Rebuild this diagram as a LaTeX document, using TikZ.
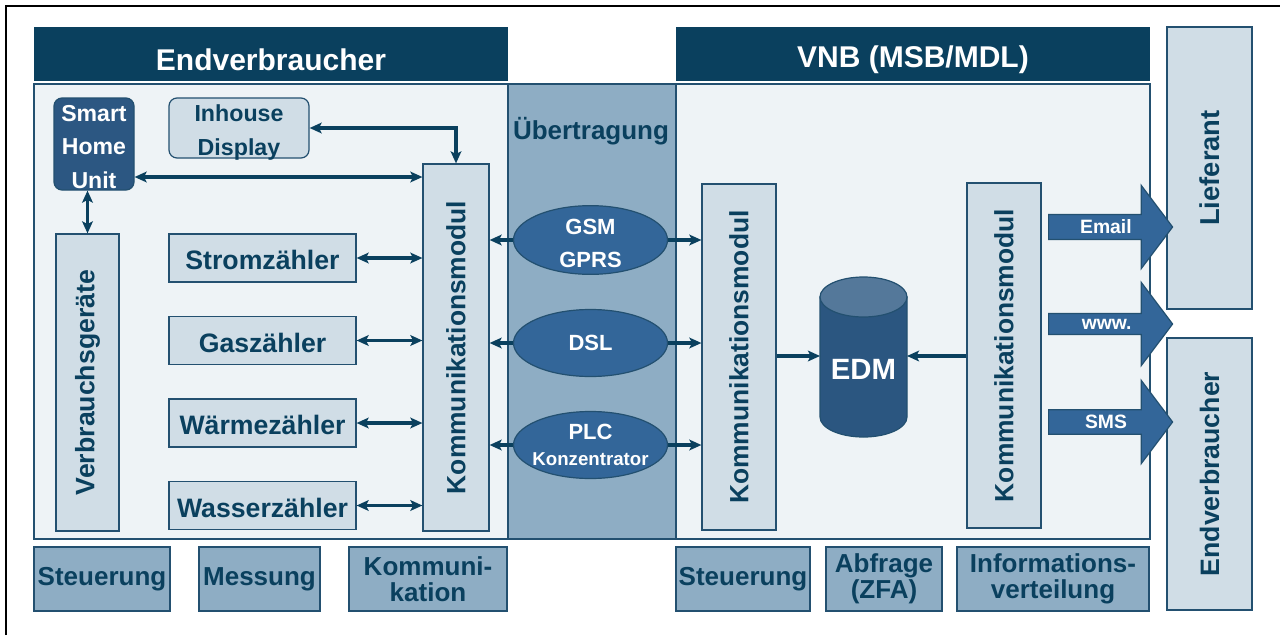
\documentclass[tikz,border=0pt]{standalone}
\usepackage{fontspec}
\setmainfont{Liberation Sans}
\usepackage{graphicx}
\usetikzlibrary{shapes.geometric,shapes.arrows,arrows.meta}
\definecolor{dunkel}{RGB}{10,64,94}
\definecolor{flaeche}{RGB}{238,243,246}
\definecolor{kastenfarbe}{RGB}{208,221,230}
\definecolor{mittel}{RGB}{142,173,196}
\definecolor{ovalfarbe}{RGB}{51,102,153}
\definecolor{shufarbe}{RGB}{44,87,130}
\definecolor{zylinder}{RGB}{43,86,128}
\definecolor{deckel}{RGB}{84,120,154}
\definecolor{rand}{RGB}{35,80,112}
\newdimen\pxu \pxu=0.75pt
\newcommand\schrift[2]{\bfseries\fontsize{#1}{#2}\selectfont}
\newcommand\tief[2]{\raisebox{-#1\pxu}[\height][\depth]{#2}}

\begin{document}
\begin{tikzpicture}[x=0.75pt,y=-0.75pt,
  kopf/.style={fill=dunkel,text=white,font=\schrift{22.5}{26},inner sep=0pt},
  feld/.style={fill=flaeche,draw=rand,line width=0.9pt,inner sep=0pt},
  kasten/.style={fill=kastenfarbe,draw=rand,line width=0.9pt,text=dunkel,align=center,inner sep=0pt},
  gruppe/.style={fill=mittel,draw=rand,line width=0.9pt,text=dunkel,align=center,inner sep=0pt,minimum height=64\pxu,font=\schrift{19.5}{19.5}},
  oval/.style={ellipse,fill=ovalfarbe,draw=rand,line width=0.9pt,text=white,align=center,inner sep=0pt,minimum width=154\pxu,minimum height=67\pxu,font=\schrift{16.5}{24.75}},
  gpfeil/.style={single arrow,fill=ovalfarbe,draw=rand,line width=0.9pt,text=white,inner sep=1pt,minimum width=83\pxu,minimum height=124\pxu,single arrow head extend=21\pxu,single arrow tip angle=106,anchor=tail,font=\schrift{14.5}{17}},
  pfeil/.style={draw=dunkel,line width=2.4pt,-{Stealth[length=9pt,width=8pt,inset=2pt]}},
  dpfeil/.style={pfeil,{Stealth[length=9pt,width=8pt,inset=2pt]}-{Stealth[length=9pt,width=8pt,inset=2pt]}}]
\useasboundingbox (0,0) rectangle (1280,635);
\draw[line width=1.5pt] (6,635) -- (6,6) -- (1280,6);

\node[kopf,minimum width=474\pxu,minimum height=54\pxu] (kopfL) at (271,54) {\tief{6}{Endverbraucher}};
\node[kopf,minimum width=474\pxu,minimum height=54\pxu] (kopfR) at (913,54) {\tief{6}{VNB (MSB/MDL)}};
\node[feld,minimum width=474\pxu,minimum height=455\pxu] (feldL) at (271,311.5) {};
\node[feld,minimum width=474\pxu,minimum height=455\pxu] (feldR) at (913,311.5) {};
\node[feld,fill=mittel,minimum width=168\pxu,minimum height=455\pxu] (uebt) at (592,311.5) {};
\node[text=dunkel,font=\schrift{19.5}{24}] (uebttext) at (591,131) {Übertragung};

\node[kasten,fill=shufarbe,text=white,rounded corners=6pt,minimum width=80\pxu,minimum height=92\pxu,font=\schrift{17.3}{25}] (shu) at (94,144) {\tief{3}{\parbox{58pt}{\centering Smart\\Home\\Unit}}};
\node[kasten,rounded corners=6pt,minimum width=140\pxu,minimum height=60\pxu,font=\schrift{17.4}{25.5}] (ihd) at (239,128) {\tief{5}{\parbox{100pt}{\centering Inhouse\\Display}}};
\node[kasten,minimum width=63\pxu,minimum height=297\pxu,font=\schrift{20}{24}] (vg) at (87.5,382.5) {\rotatebox{90}{Verbrauchsgeräte}};
\node[kasten,minimum width=187\pxu,minimum height=48\pxu,font=\schrift{20}{24}] (strom) at (262.5,258) {\tief{2}{Stromzähler}};
\node[kasten,minimum width=187\pxu,minimum height=48\pxu,font=\schrift{20}{24}] (gas) at (262.5,340.5) {\tief{2}{Gaszähler}};
\node[kasten,minimum width=187\pxu,minimum height=48\pxu,font=\schrift{20}{24}] (waerme) at (262.5,423) {\tief{2}{Wärmezähler}};
\node[kasten,minimum width=187\pxu,minimum height=48\pxu,font=\schrift{20}{24}] (wasser) at (262.5,505.5) {\tief{2}{Wasserzähler}};
\node[kasten,minimum width=66\pxu,minimum height=367\pxu,font=\schrift{19.8}{22}] (km1) at (456,347.5) {\rotatebox{90}{Kommunikationsmodul}};

\node[oval] (gsm) at (590.5,240) {\tief{3}{\parbox{48pt}{\centering GSM\\GPRS}}};
\node[oval] (dsl) at (590.5,343) {DSL};
\node[oval,inner sep=-3pt,font=\schrift{16.5}{20}] (plc) at (590.5,445) {PLC\\\fontsize{14}{20}\selectfont Konzentrator};

\node[kasten,minimum width=74\pxu,minimum height=346\pxu,font=\schrift{19.8}{22}] (km2) at (739,357) {\rotatebox{90}{Kommunikationsmodul}};
\node[kasten,minimum width=74\pxu,minimum height=345\pxu,font=\schrift{19.8}{22}] (km3) at (1004,355.5) {\rotatebox{90}{Kommunikationsmodul}};
\filldraw[fill=zylinder,draw=rand,line width=0.9pt] (820,297) -- (820,417) arc[start angle=180,end angle=0,x radius=43.5,y radius=20] -- (907,297) -- cycle;
\filldraw[fill=deckel,draw=rand,line width=0.9pt] (863.5,297) ellipse[x radius=43.5,y radius=20];
\node[text=white,font=\schrift{22}{26}] (edm) at (863.5,369) {EDM};
\coordinate (edmL) at (820,356);
\coordinate (edmR) at (907,356);

\node[kasten,minimum width=85\pxu,minimum height=282\pxu,font=\schrift{20.5}{24}] (lief) at (1209.5,168) {\rotatebox{90}{Lieferant}};
\node[kasten,minimum width=85\pxu,minimum height=272\pxu,font=\schrift{20}{24}] (endv) at (1209.5,474) {\rotatebox{90}{Endverbraucher}};
\node[gpfeil] (email) at (1048,227) {Email};
\node[gpfeil] (www) at (1048,324) {www.};
\node[gpfeil] (sms) at (1048,422) {SMS};

\node[gruppe,minimum width=136\pxu] (steuL) at (102,579) {Steuerung};
\node[gruppe,minimum width=121\pxu] (mess) at (259.5,579) {Messung};
\node[gruppe,minimum width=158\pxu] (komm) at (428,579) {Kommuni-\\kation};
\node[gruppe,minimum width=134\pxu] (steuR) at (743,579) {Steuerung};
\node[gruppe,minimum width=116\pxu] (abfr) at (884,579) {Abfrage\\(ZFA)};
\node[gruppe,minimum width=192\pxu] (info) at (1053,579) {Informations-\\verteilung};

\draw[dpfeil] (shu.east |- 0,177) -- (km1.west |- 0,177);
\draw[dpfeil] (ihd.east) -| (km1.north);
\draw[dpfeil] (vg.north) -- (vg.north |- shu.south);
\draw[dpfeil] (strom) -- (strom -| km1.west);
\draw[dpfeil] (gas) -- (gas -| km1.west);
\draw[dpfeil] (waerme) -- (waerme -| km1.west);
\draw[dpfeil] (wasser) -- (wasser -| km1.west);
\draw[pfeil] (gsm) -- (gsm -| km1.east);
\draw[pfeil] (gsm) -- (gsm -| km2.west);
\draw[pfeil] (dsl) -- (dsl -| km1.east);
\draw[pfeil] (dsl) -- (dsl -| km2.west);
\draw[pfeil] (plc) -- (plc -| km1.east);
\draw[pfeil] (plc) -- (plc -| km2.west);
\draw[pfeil] (km2.east |- edmL) -- (edmL);
\draw[pfeil] (km3.west |- edmR) -- (edmR);
\end{tikzpicture}
\end{document}
